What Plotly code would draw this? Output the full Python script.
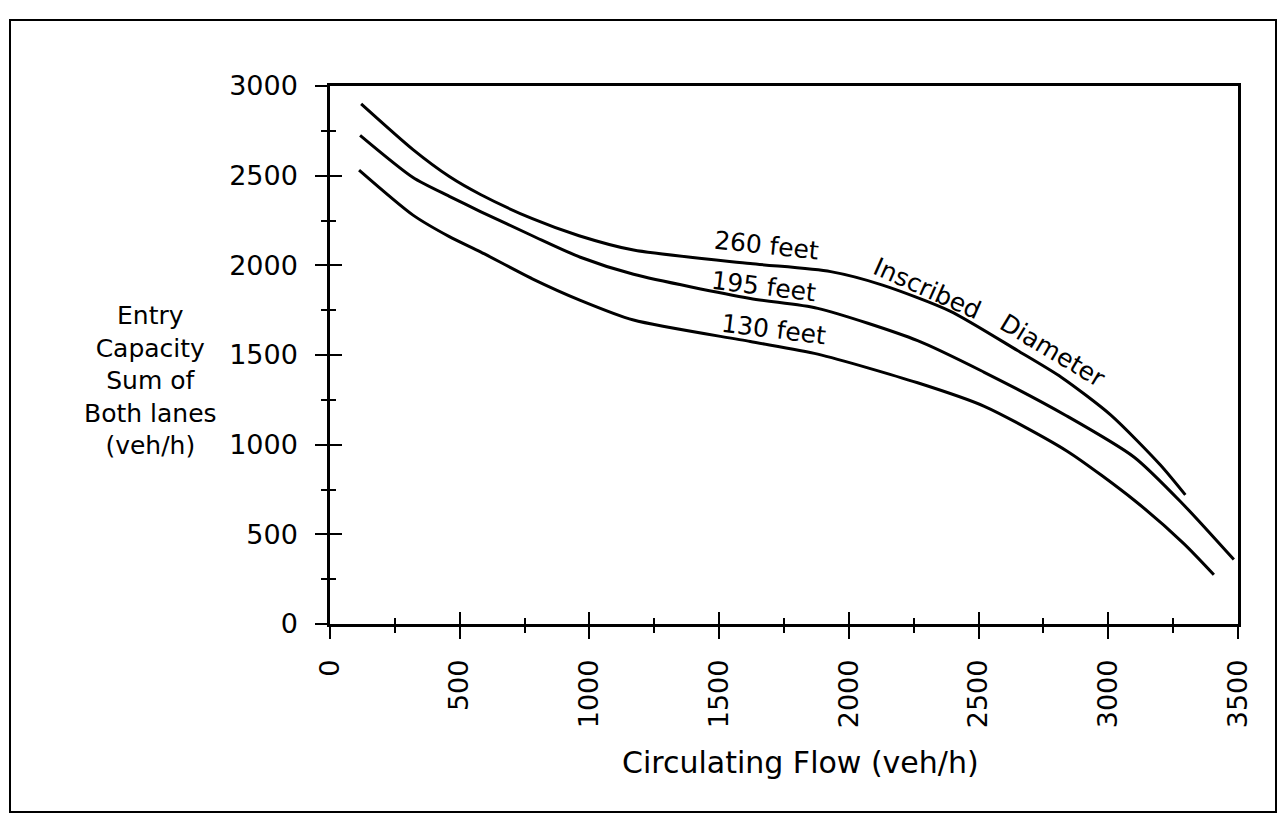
import plotly.graph_objects as go

# ---- data ----
flow_260 = [120, 320, 460, 580, 780, 960, 1170, 1620, 1930, 2130, 2390, 2650, 2820, 3010, 3200, 3297]
cap_260 = [2900, 2645, 2495, 2395, 2260, 2165, 2085, 2010, 1965, 1890, 1745, 1525, 1375, 1165, 888, 720]

flow_195 = [116, 320, 460, 580, 780, 965, 1170, 1620, 1880, 2265, 2520, 2840, 3100, 3290, 3484]
cap_195 = [2725, 2490, 2385, 2300, 2165, 2045, 1950, 1815, 1760, 1580, 1405, 1160, 930, 665, 359]

flow_130 = [112, 320, 460, 580, 780, 965, 1170, 1620, 1880, 2265, 2520, 2840, 3100, 3290, 3407]
cap_130 = [2531, 2280, 2160, 2075, 1925, 1805, 1695, 1575, 1505, 1345, 1215, 965, 690, 450, 275]

x_ticks = [0, 500, 1000, 1500, 2000, 2500, 3000, 3500]
y_ticks = [0, 500, 1000, 1500, 2000, 2500, 3000]

labels = ["260 feet", "195 feet", "130 feet", "Inscribed", "Diameter"]
label_x = [1684, 1671, 1709, 2301, 2785]
label_y = [2110, 1880, 1640, 1870, 1525]
label_angle = [6, 7, 7, 24, 31]

FONT = "DejaVu Sans"
W, H = 1287, 822
ML, MR, MT, MB = 330, 49, 86, 198
PW, PH = W - ML - MR, H - MT - MB


def px_x(p):
    return (p - ML) / PW


def px_y(p):
    return (H - MB - p) / PH


fig = go.Figure()
line_style = dict(color="black", width=3, shape="spline", smoothing=0.7)
for fx, cy in [(flow_260, cap_260), (flow_195, cap_195), (flow_130, cap_130)]:
    fig.add_trace(go.Scatter(x=fx, y=cy, mode="lines", line=line_style,
                             showlegend=False, hoverinfo="skip"))
# invisible trace so the overlaid (inside-tick) axes are drawn
fig.add_trace(go.Scatter(x=flow_130, y=cap_130, mode="lines", xaxis="x2", yaxis="y2",
                         line=dict(width=1, color="rgba(0,0,0,0)"), showlegend=False,
                         hoverinfo="skip"))

axis_common = dict(showgrid=False, zeroline=False, linecolor="black", linewidth=2.5,
                   tickcolor="black", tickwidth=2, fixedrange=True)
minor_out = dict(dtick=250, ticks="outside", ticklen=6, tickwidth=2, tickcolor="black", showgrid=False)
minor_in = dict(dtick=250, ticks="inside", ticklen=6, tickwidth=2, tickcolor="black", showgrid=False)

fig.update_layout(
    width=W, height=H,
    margin=dict(l=ML, r=MR, t=MT, b=MB),
    paper_bgcolor="white", plot_bgcolor="white",
    font=dict(family=FONT, color="black", size=26),
    xaxis=dict(range=[0, 3500], tickvals=x_ticks, ticktext=[str(v) for v in x_ticks],
               ticks="outside", ticklen=12, tickangle=-90, showline=True, mirror=True,
               ticklabelstandoff=10, minor=minor_out,
               tickfont=dict(family=FONT, size=27), **axis_common),
    yaxis=dict(range=[0, 3000], tickvals=y_ticks, ticktext=[str(v) for v in y_ticks],
               ticks="outside", ticklen=12, showline=True, mirror=True,
               ticklabelstandoff=12, minor=minor_out,
               tickfont=dict(family=FONT, size=27), **axis_common),
    xaxis2=dict(overlaying="x", anchor="y2", range=[0, 3500], tickvals=x_ticks, ticks="inside",
                ticklen=12, showticklabels=False, side="bottom", showline=False,
                minor=minor_in, showgrid=False, zeroline=False, tickcolor="black",
                tickwidth=2, fixedrange=True),
    yaxis2=dict(overlaying="y", anchor="x2", range=[0, 3000], tickvals=y_ticks, ticks="inside",
                ticklen=12, showticklabels=False, side="left", showline=False,
                minor=minor_in, showgrid=False, zeroline=False, tickcolor="black",
                tickwidth=2, fixedrange=True),
)

# outer frame
fig.add_shape(type="rect", xref="paper", yref="paper",
              x0=px_x(10), x1=px_x(1276), y0=px_y(812), y1=px_y(20),
              line=dict(color="black", width=2))

# axis titles
fig.add_annotation(xref="paper", yref="paper", x=px_x(150), y=px_y(380),
                   text="Entry<br>Capacity<br>Sum of<br>Both lanes<br>(veh/h)",
                   showarrow=False, align="center", xanchor="center", yanchor="middle",
                   font=dict(family=FONT, size=25))
fig.add_annotation(xref="paper", yref="paper", x=px_x(800), y=px_y(762),
                   text="Circulating Flow (veh/h)", showarrow=False,
                   xanchor="center", yanchor="middle", font=dict(family=FONT, size=30))

for t, lx, ly, a in zip(labels, label_x, label_y, label_angle):
    fig.add_annotation(x=lx, y=ly, text=t, textangle=a, showarrow=False,
                       xanchor="center", yanchor="middle", font=dict(family=FONT, size=25))

fig.write_html("out.html")
